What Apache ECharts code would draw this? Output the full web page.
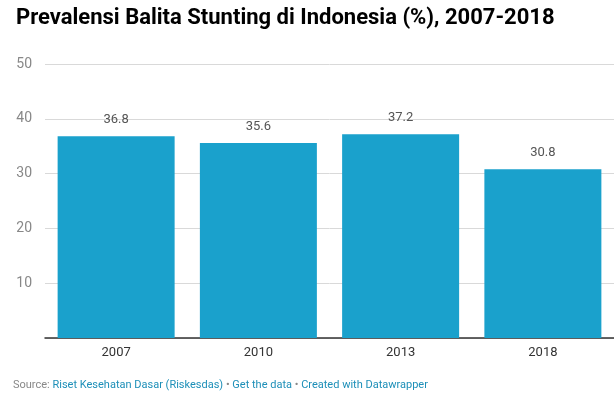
<!DOCTYPE html>
<html>
<head>
<meta charset="utf-8">
<script src="https://cdn.jsdelivr.net/npm/echarts@6/dist/echarts.min.js"></script>
<style>
  html, body { margin: 0; padding: 0; background: #fff; }
  #chart { width: 614px; height: 398px; }
</style>
</head>
<body>
<div id="chart"></div>
<script>
const years = ['2007', '2010', '2013', '2018']
const stunting = [36.8, 35.6, 37.2, 30.8]
const yTicks = [10, 20, 30, 40, 50]

const chart = echarts.init(document.getElementById('chart'))

const option = {
  animation: false,
  textStyle: { fontFamily: 'Roboto' },
  title: {
    text: 'Prevalensi Balita Stunting di Indonesia (%), 2007-2018',
    left: 11,
    top: 2,
    textStyle: { fontSize: 22, fontWeight: 'bold', color: '#000', fontFamily: 'Roboto' }
  },
  graphic: [{
    type: 'text',
    left: 13,
    top: 380,
    style: {
      text: '{g|Source: }{b|Riset Kesehatan Dasar (Riskesdas)}{g| • }{b|Get the data}{g| • }{b|Created with Datawrapper}',
      font: '11px Roboto',
      rich: {
        g: { fontSize: 11, fill: '#888', fontFamily: 'Roboto' },
        b: { fontSize: 11, fill: '#1d8fb8', fontFamily: 'Roboto' }
      }
    }
  }],
  grid: { left: 45, width: 572, top: 64, bottom: 60 },
  xAxis: {
    type: 'category',
    data: years,
    axisTick: { show: false },
    axisLine: { lineStyle: { color: '#333', width: 1.5 } },
    axisLabel: { color: '#333', fontSize: 13, margin: 8 }
  },
  yAxis: {
    type: 'value',
    min: 0,
    max: 50,
    interval: 10,
    axisLine: { show: false },
    axisTick: { show: false },
    splitLine: { lineStyle: { color: '#d9d9d9' } },
    axisLabel: {
      color: '#888',
      fontSize: 14,
      margin: 13,
      formatter: v => (yTicks.includes(v) ? String(v) : '')
    }
  },
  series: [{
    type: 'bar',
    data: stunting,
    barWidth: 117,
    itemStyle: { color: '#1aa1cc' },
    label: {
      show: true,
      position: 'top',
      distance: 10,
      color: '#555',
      fontSize: 13
    }
  }]
}

chart.setOption(option)
</script>
</body>
</html>
